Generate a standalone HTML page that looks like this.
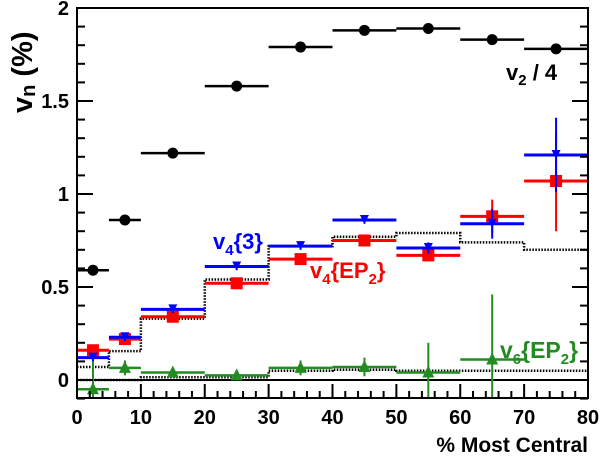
<!DOCTYPE html>
<html><head><meta charset="utf-8"><style>
body{margin:0;background:#fff}
svg{display:block;font-family:"Liberation Sans",sans-serif}
</style></head><body>
<svg id="c" width="600" height="458">
<g id="g"></g>
<text x="588" y="452" text-anchor="end" font-size="21" font-weight="bold">% Most Central</text>
<text transform="translate(32,113) rotate(-90)" font-size="29" font-weight="bold">v<tspan font-size="20" dy="3">n</tspan><tspan dy="-3"> (%)</tspan></text>
<text x="506" y="80" font-size="22" font-weight="bold" fill="#000">v<tspan font-size="15" dy="5">2</tspan><tspan dy="-5"> / 4</tspan></text>
<text x="213" y="249" font-size="22" font-weight="bold" fill="#0000ff">v<tspan font-size="15" dy="6">4</tspan><tspan dy="-6">{3}</tspan></text>
<text x="310" y="278" font-size="22" font-weight="bold" fill="#ff0000">v<tspan font-size="15" dy="6">4</tspan><tspan dy="-6">{EP</tspan><tspan font-size="15" dy="6">2</tspan><tspan dy="-6">}</tspan></text>
<text x="500" y="358" font-size="23" font-weight="bold" fill="#228b22">v<tspan font-size="15" dy="6">6</tspan><tspan dy="-6">{EP</tspan><tspan font-size="15" dy="6">2</tspan><tspan dy="-6">}</tspan></text>
</svg>
<script>
const binEdges=[0,5,10,20,30,40,50,60,70,80];
const v2=[0.59,0.86,1.22,1.58,1.79,1.88,1.89,1.83,1.78];
const v43=[0.12,0.23,0.38,0.61,0.72,0.86,0.71,0.84,1.21];
const v43err=[0.02,0.02,0.02,0.02,0.02,0.02,0.03,0.08,0.2];
const v4ep=[0.16,0.22,0.34,0.52,0.65,0.75,0.67,0.88,1.07];
const v4eperr=[0.02,0.02,0.02,0.02,0.02,0.02,0.03,0.09,0.27];
const v6=[-0.05,0.065,0.04,0.025,0.065,0.07,0.04,0.11];
const v6err=[0.15,0.04,0.02,0.02,0.04,0.05,0.16,0.35];
const histHigh=[0.07,0.155,0.33,0.54,0.72,0.77,0.79,0.74,0.70];
const histLow=[0.0,0.0,0.015,0.015,0.05,0.055,0.05,0.05,0.05];
const yTicks=[0,0.5,1,1.5,2];
const yTickLabels=["0","0.5","1","1.5","2"];
const xTicks=[0,10,20,30,40,50,60,70,80];

const L=77,R=588,T=8,B=398;
const X=v=>L+(v-0)*(R-L)/80;
const Y=v=>380-v*186;
const g=document.getElementById('g');
const NS='http://www.w3.org/2000/svg';
function el(t,a,p){const e=document.createElementNS(NS,t);for(const k in a)e.setAttribute(k,a[k]);(p||g).appendChild(e);return e;}

let z=el('line',{x1:L,x2:R,y1:Y(0),y2:Y(0),stroke:'#000','stroke-width':2});



function hist(vals,name){let d='';for(let i=0;i<vals.length;i++){d+=(i?'L':'M')+X(binEdges[i])+' '+Y(vals[i])+' L'+X(binEdges[i+1])+' '+Y(vals[i]);}
const p=el('path',{d:d,fill:'none',stroke:'#000','stroke-width':2.5,'stroke-dasharray':'1.5 1.5'});

}
hist(histHigh,'hydro-upper-band');
hist(histLow,'hydro-lower-band');

function series(vals,errs,color,marker,name,sw){
 for(let i=0;i<vals.length;i++){
  const c=(binEdges[i]+binEdges[i+1])/2, cx=X(c), cy=Y(vals[i]);
  const grp=el('g',{});
  
  
  el('line',{x1:X(binEdges[i]),x2:X(binEdges[i+1]),y1:cy,y2:cy,stroke:color,'stroke-width':sw},grp);
  if(errs){el('line',{x1:cx,x2:cx,y1:Y(vals[i]+errs[i]),y2:Math.min(B,Y(vals[i]-errs[i])),stroke:color,'stroke-width':2},grp);}
  if(marker==='circle')el('circle',{cx:cx,cy:cy,r:5.5,fill:color},grp);
  if(marker==='square')el('rect',{x:cx-6,y:cy-6,width:12,height:12,fill:color},grp);
  if(marker==='tri-down')el('path',{d:`M${cx-4.5} ${cy-5}L${cx+4.5} ${cy-5}L${cx} ${cy+4}Z`,fill:color},grp);
  if(marker==='tri-up')el('path',{d:`M${cx-6} ${cy+5}L${cx+6} ${cy+5}L${cx} ${cy-7}Z`,fill:color},grp);
 }
}
series(v6,v6err,'#228b22','tri-up','v6-ep2',2.5);
series(v4ep,v4eperr,'#ff0000','square','v4-ep2',3);
series(v43,v43err,'#0000ff','tri-down','v4-3',3);
series(v2,null,'#000','circle','v2-over-4',2.5);

let f=el('rect',{x:L,y:T,width:R-L,height:B-T,fill:'none',stroke:'#000','stroke-width':2});


for(let k=-1;k<=20;k++){const vv=k/10;const major=k%5===0;const len=major?16:8;
 el('line',{x1:L,x2:L+len,y1:Y(vv),y2:Y(vv),stroke:'#000','stroke-width':2});
 el('line',{x1:R,x2:R-len,y1:Y(vv),y2:Y(vv),stroke:'#000','stroke-width':2});}
for(let i=0;i<yTicks.length;i++){const t=el('text',{x:L-8,y:Y(yTicks[i])+7,'text-anchor':'end','font-size':20,'font-weight':'bold'});t.textContent=yTickLabels[i];
 
 }
for(let v=0;v<=80;v+=2){const major=v%10===0;const len=major?14:7;
 el('line',{x1:X(v),x2:X(v),y1:B,y2:B-len,stroke:'#000','stroke-width':2});}
for(const v of xTicks){const t=el('text',{x:X(v),y:424,'text-anchor':'middle','font-size':20,'font-weight':'bold'});t.textContent=v;
 
 }
</script>
</body></html>
